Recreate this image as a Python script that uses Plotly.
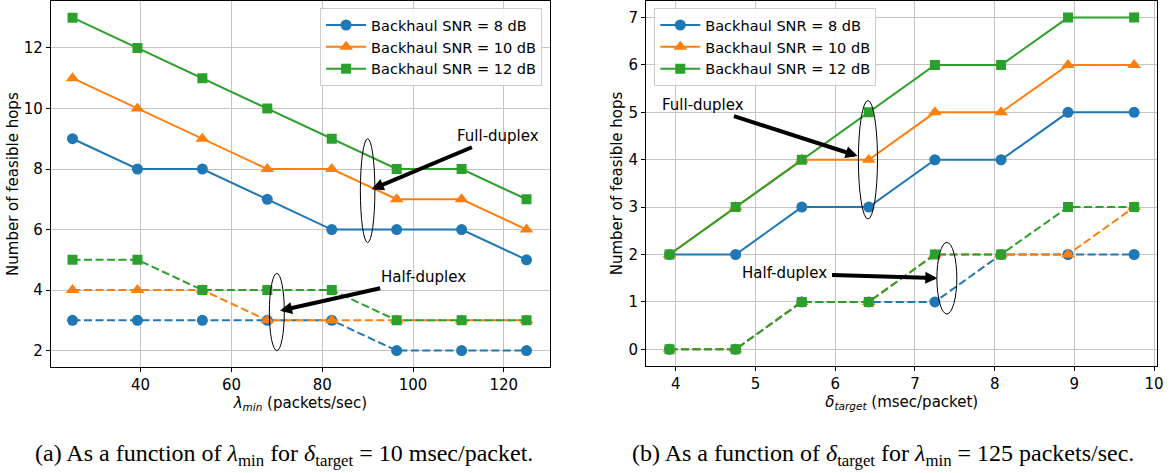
import plotly.graph_objects as go

# ---- data -------------------------------------------------------------
lam_min = [25, 39.3, 53.6, 67.9, 82.1, 96.4, 110.7, 125]          # packets/sec
delta_target = [3.92, 4.75, 5.58, 6.42, 7.25, 8.08, 8.92, 9.75]   # msec/packet
snr_labels = ["Backhaul SNR = 8 dB", "Backhaul SNR = 10 dB", "Backhaul SNR = 12 dB"]

# (a) hops vs lambda_min
fd_a_8 = [9, 8, 8, 7, 6, 6, 6, 5]
fd_a_10 = [11, 10, 9, 8, 8, 7, 7, 6]
fd_a_12 = [13, 12, 11, 10, 9, 8, 8, 7]
hd_a_8 = [3, 3, 3, 3, 3, 2, 2, 2]
hd_a_10 = [4, 4, 4, 3, 3, 3, 3, 3]
hd_a_12 = [5, 5, 4, 4, 4, 3, 3, 3]

# (b) hops vs delta_target
fd_b_8 = [2, 2, 3, 3, 4, 4, 5, 5]
fd_b_10 = [2, 3, 4, 4, 5, 5, 6, 6]
fd_b_12 = [2, 3, 4, 5, 6, 6, 7, 7]
hd_b_8 = [0, 0, 1, 1, 1, 2, 2, 2]
hd_b_10 = [0, 0, 1, 1, 2, 2, 2, 3]
hd_b_12 = [0, 0, 1, 1, 2, 2, 3, 3]

# ---- styling ----------------------------------------------------------
COLORS = ["#1f77b4", "#ff7f0e", "#2ca02c"]
SYMBOLS = ["circle", "triangle-up", "square"]
MSIZE = [11, 12, 10]
FONT = "DejaVu Sans"
FS = 15
GRID = "#c4c4c4"

fig = go.Figure()


def add_series(x, ys, xa, ya, dash, legend, show):
    for i, y in enumerate(ys):
        fig.add_trace(go.Scatter(
            x=x, y=y, xaxis=xa, yaxis=ya, mode="lines+markers",
            name=snr_labels[i], legend=legend, showlegend=show,
            line=dict(color=COLORS[i], width=2, dash=dash),
            marker=dict(symbol=SYMBOLS[i], size=MSIZE[i], color=COLORS[i],
                        line=dict(width=0)),
        ))


add_series(lam_min, [fd_a_8, fd_a_10, fd_a_12], "x", "y", "solid", "legend", True)
add_series(lam_min, [hd_a_8, hd_a_10, hd_a_12], "x", "y", "8px,3.5px", "legend", False)
add_series(delta_target, [fd_b_8, fd_b_10, fd_b_12], "x2", "y2", "solid", "legend2", True)
add_series(delta_target, [hd_b_8, hd_b_10, hd_b_12], "x2", "y2", "8px,3.5px", "legend2", False)

axis_common = dict(
    showline=True, linecolor="black", linewidth=1, mirror=True,
    ticks="outside", ticklen=4, tickwidth=1, tickcolor="black",
    showgrid=True, gridcolor=GRID, gridwidth=1, zeroline=False,
    tickfont=dict(family=FONT, size=FS, color="black"),
)
title_font = dict(family=FONT, size=FS, color="black")
legend_common = dict(xanchor="left", yanchor="top",
                     bgcolor="rgba(255,255,255,0.85)", bordercolor="#cccccc",
                     borderwidth=1, font=dict(family=FONT, size=14.5),
                     itemwidth=40, tracegroupgap=0)

fig.update_layout(
    width=1175, height=473,
    margin=dict(l=0, r=0, t=0, b=0),
    paper_bgcolor="white", plot_bgcolor="white",
    font=dict(family=FONT, size=FS, color="black"),
    xaxis=dict(domain=[0.0434, 0.4706], range=[20.2, 130.2], dtick=20, anchor="y",
               title=dict(text="<i>λ<sub>min</sub></i> (packets/sec)", standoff=4,
                          font=title_font),
               **axis_common),
    yaxis=dict(domain=[0.224, 1.0], range=[1.45, 13.55], dtick=2, anchor="x",
               title=dict(text="Number of feasible hops", standoff=1, font=title_font),
               **axis_common),
    xaxis2=dict(domain=[0.5526, 0.9901], range=[3.625, 10.042], dtick=1, anchor="y2",
                title=dict(text="<i>δ<sub>target</sub></i> (msec/packet)", standoff=4,
                           font=title_font),
                **axis_common),
    yaxis2=dict(domain=[0.227, 1.0], range=[-0.35, 7.35], dtick=1, anchor="x2",
                title=dict(text="Number of feasible hops", standoff=2, font=title_font),
                **axis_common),
    legend=dict(x=0.2738, y=0.985, **legend_common),
    legend2=dict(x=0.5597, y=0.985, **legend_common),
)

# ---- ellipses marking the full-/half-duplex groups ---------------------
ellipses = [
    ("x", "y", 88.4, 5.57, 91.6, 9.0),
    ("x", "y", 68.35, 2.0, 71.65, 4.55),
    ("x2", "y2", 6.29, 2.75, 6.53, 5.25),
    ("x2", "y2", 7.275, 0.745, 7.525, 2.255),
]
for xr, yr, x0, y0, x1, y1 in ellipses:
    fig.add_shape(type="circle", xref=xr, yref=yr, x0=x0, y0=y0, x1=x1, y1=y1,
                  line=dict(color="black", width=1))

# ---- arrows and labels --------------------------------------------------
arrows = [
    # xref, yref, head x, head y, tail x, tail y, label, label x, label y
    ("x", "y", 90.9, 7.33, 113.3, 8.74, "Full-duplex", 118.8, 9.09),
    ("x", "y", 70.7, 3.32, 93.1, 4.07, "Half-duplex", 102.3, 4.42),
    ("x2", "y2", 6.28, 4.08, 4.71, 4.93, "Full-duplex", 4.34, 5.16),
    ("x2", "y2", 7.28, 1.50, 5.94, 1.57, "Half-duplex", 5.36, 1.61),
]
for xr, yr, hx, hy, tx, ty, label, lx, ly in arrows:
    fig.add_annotation(xref=xr, yref=yr, x=hx, y=hy, ax=tx, ay=ty,
                       axref=xr, ayref=yr, showarrow=True, text="",
                       arrowhead=2, arrowsize=0.6, arrowwidth=4, arrowcolor="black")
    fig.add_annotation(xref=xr, yref=yr, x=lx, y=ly, text=label, showarrow=False,
                       font=dict(family=FONT, size=FS, color="black"),
                       xanchor="center", yanchor="middle")

# ---- sub-captions -------------------------------------------------------
CAP_FONT = dict(family="Liberation Serif", size=24, color="black")
fig.add_annotation(xref="paper", yref="paper", x=285 / 1175, y=1 - 455 / 473,
                   text="(a) As a function of <i>λ</i><sub>min</sub> for "
                        "<i>δ</i><sub>target</sub> = 10 msec/packet.",
                   showarrow=False, font=CAP_FONT, xanchor="center", yanchor="middle")
fig.add_annotation(xref="paper", yref="paper", x=888 / 1175, y=1 - 455 / 473,
                   text="(b) As a function of <i>δ</i><sub>target</sub> for "
                        "<i>λ</i><sub>min</sub> = 125 packets/sec.",
                   showarrow=False, font=CAP_FONT, xanchor="center", yanchor="middle")

fig.write_html("out.html")
